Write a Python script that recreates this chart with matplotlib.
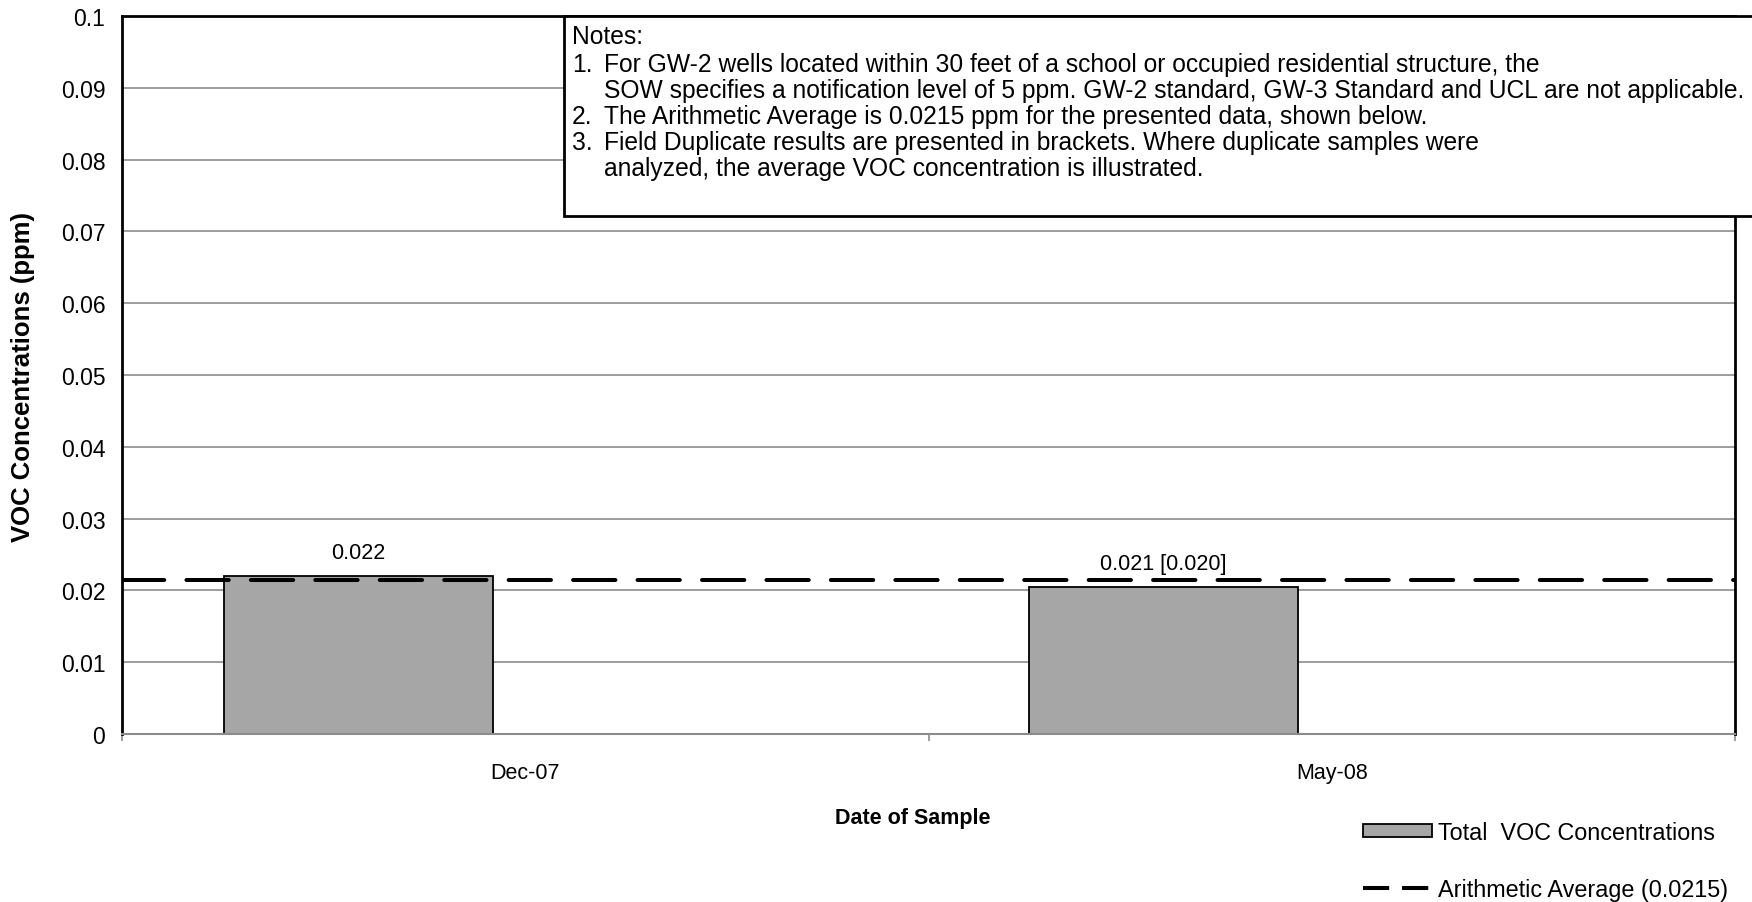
import matplotlib
matplotlib.use("Agg")
import matplotlib.pyplot as plt
from matplotlib.patches import Rectangle
from matplotlib.lines import Line2D

plt.rcParams['font.family'] = ['Liberation Sans', 'DejaVu Sans']

# data
bar_pos = [0.293, 1.291]          # position on the date axis (Excel offsets the bars)
bar_values = [0.022, 0.0205]
bar_labels = ["0.022", "0.021 [0.020]"]
date_labels = ["Dec-07", "May-08"]
date_label_pos = [0.5, 1.5]
average = 0.0215

note_numbers = ["", "1.", "", "2.", "3.", ""]
note_lines = [
    "Notes:",
    "For GW-2 wells located within 30 feet of a school or occupied residential structure, the",
    "SOW specifies a notification level of 5 ppm. GW-2 standard, GW-3 Standard and UCL are not applicable.",
    "The Arithmetic Average is 0.0215 ppm for the presented data, shown below.",
    "Field Duplicate results are presented in brackets. Where duplicate samples were",
    "analyzed, the average VOC concentration is illustrated.",
]

W, H = 1752, 903
fig = plt.figure(figsize=(W / 100, H / 100), dpi=100)
ax = fig.add_axes([122 / W, 1 - 735 / H, (1735 - 122) / W, (735 - 17) / H])

bars = ax.bar(bar_pos, bar_values, width=0.334, color="#a6a6a6", edgecolor="black",
              linewidth=1.3, zorder=2)
for x, v, lab in zip(bar_pos, bar_values, bar_labels):
    ax.text(x, v + 0.0033, lab, ha="center", va="center", fontsize=15.5)

ax.axhline(average, color="black", lw=2.9, dashes=(10.5, 5.5), zorder=3,
           dash_capstyle="round")

ax.set_xlim(0, 2)
ax.set_ylim(0, 0.1)
ax.set_yticks([i / 100 for i in range(11)])
ax.set_yticklabels(["0"] + [f"{i / 100:g}" for i in range(1, 11)], fontsize=16.5)
ax.tick_params(axis="y", length=0, pad=12)
ax.yaxis.grid(True, color="#8c8c8c", lw=1.2, zorder=1)
ax.set_axisbelow(True)

ax.set_xticks([0, 1, 2])
ax.set_xticklabels([])
ax.tick_params(axis="x", length=5, color="#8c8c8c", width=1.2, direction="out")
for x, lab in zip(date_label_pos, date_labels):
    ax.text(x, -0.0053, lab, ha="center", va="center", fontsize=15.5)

for s in ["left", "top", "right"]:
    ax.spines[s].set_linewidth(2)
    ax.spines[s].set_color("black")
ax.spines["bottom"].set_color("#8c8c8c")
ax.spines["bottom"].set_linewidth(1.5)

fig.text(23 / W, 1 - 377 / H, "VOC Concentrations (ppm)", rotation=90, ha="center",
         va="center", fontsize=18.5, fontweight="bold")
fig.text(913 / W, 1 - 819 / H, "Date of Sample", ha="center", va="center",
         fontsize=15.5, fontweight="bold")

# legend handle for the average with a shorter dash so two dashes show
avg_handle = Line2D([], [], color="black", lw=2.9, dashes=(6.5, 3.2))
ax.legend([bars, avg_handle], ["Total  VOC Concentrations", "Arithmetic Average (0.0215)"],
          loc="center left", bbox_to_anchor=(1351 / W, 1 - 862 / H),
          bbox_transform=fig.transFigure, frameon=False, fontsize=16.8,
          handlelength=2.95, handleheight=0.5, handletextpad=0.3, labelspacing=1.45,
          borderpad=0)

# notes box
box = Rectangle((564 / W, 1 - 217 / H), 1.0, 200 / H, transform=fig.transFigure,
                facecolor="white", edgecolor="black", lw=2, zorder=5)
fig.patches.append(box)
line_y = [37, 65, 91, 117, 143, 169]
for y, num, t in zip(line_y, note_numbers, note_lines):
    x0 = 572 if t == "Notes:" else 604
    fig.text(x0 / W, 1 - y / H, t, ha="left", va="center", fontsize=17.7, zorder=6)
    if num:
        fig.text(572 / W, 1 - y / H, num, ha="left", va="center", fontsize=17.7, zorder=6)

fig.savefig("out.png", dpi=100)
